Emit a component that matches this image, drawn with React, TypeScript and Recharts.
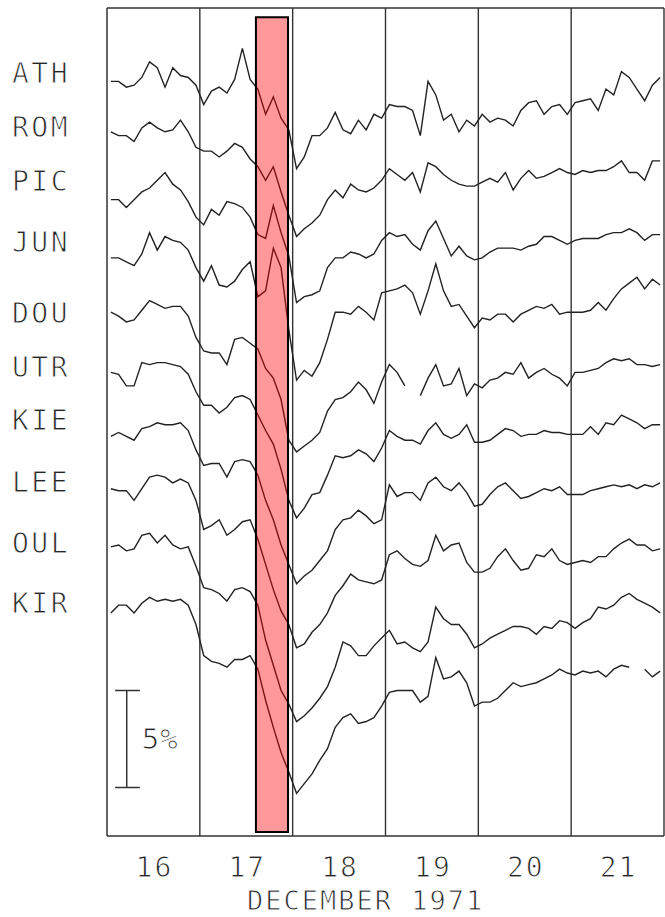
import React from 'react';
import { LineChart, Line, XAxis, YAxis, ReferenceLine, ReferenceArea } from 'recharts';

// Stations, top to bottom
const STATIONS = ['ATH', 'ROM', 'PIC', 'JUN', 'DOU', 'UTR', 'KIE', 'LEE', 'OUL', 'KIR'];
// Vertical offset of each station trace (in % units of the plot scale)
const OFFSETS = [39.0, 36.2, 32.8, 29.8, 27.0, 23.9, 20.8, 18.0, 14.8, 11.6];
// Where the station names sit on the vertical scale
const LABEL_LEVELS = [39.33, 36.55, 33.76, 30.62, 26.96, 24.18, 21.44, 18.25, 15.1, 12.01];

// Hours since 16 December 1971 00 UT (2-hourly samples)
const HOURS = [
  1, 3, 5, 7, 9, 11, 13, 15, 17, 19, 21, 23,
  25, 27, 29, 31, 33, 35, 37, 39, 41, 43, 45, 47,
  49, 51, 53, 55, 57, 59, 61, 63, 65, 67, 69, 71,
  73, 75, 77, 79, 81, 83, 85, 87, 89, 91, 93, 95,
  97, 99, 101, 103, 105, 107, 109, 111, 113, 115, 117, 119,
  121, 123, 125, 127, 129, 131, 133, 135, 137, 139, 141, 143,
];

// Percentage deviation of counting rate for each station
const ATH = [
  -0.1, -0.1, -0.4, -0.3, 0.1, 0.9, 0.6, -0.4, 0.6, 0.2, 0.1, -0.3,
  -1.3, -0.6, -0.4, -0.7, 0.0, 1.6, 0.0, -0.5, -1.8, -0.9, -2.0, -2.6,
  -4.6, -4.0, -2.9, -2.9, -2.5, -1.7, -2.6, -2.8, -2.1, -2.6, -1.8, -2.0,
  -1.3, -1.4, -1.4, -1.6, -2.9, -0.1, -0.8, -2.1, -1.8, -2.7, -2.1, -2.4,
  -1.8, -2.2, -2.0, -2.1, -2.4, -1.6, -1.2, -1.1, -1.8, -1.4, -1.3, -1.8,
  -1.2, -1.1, -1.0, -1.6, -0.5, -0.8, 0.4, 0.1, -0.5, -1.1, -0.3, 0.1,
];
const ROM = [
  0.1, -0.1, -0.1, -0.4, 0.3, 0.6, 0.3, 0.1, 0.2, 0.7, 0.1, -0.7,
  -0.9, -0.9, -1.2, -0.9, -0.5, -0.7, -1.3, -1.7, -2.4, -1.7, -3.0, -4.2,
  -5.3, -4.9, -4.6, -4.2, -3.4, -2.9, -3.3, -2.6, -2.9, -3.0, -2.8, -2.4,
  -1.8, -2.1, -2.4, -2.0, -3.0, -1.5, -1.7, -2.1, -2.4, -2.6, -2.7, -2.7,
  -2.5, -2.3, -2.5, -2.0, -2.9, -2.3, -1.9, -2.3, -2.2, -2.0, -1.8, -2.0,
  -2.1, -1.9, -2.0, -1.9, -1.9, -1.7, -1.4, -2.0, -2.0, -2.4, -1.4, -1.4,
];
const PIC = [
  0.0, 0.0, -0.4, 0.0, 0.4, 0.6, 1.0, 1.4, 0.8, 0.5, -0.1, -0.9,
  -1.3, -0.5, -0.8, -0.1, -0.2, -0.4, -0.9, -1.8, -2.0, -0.3, -1.7, -2.9,
  -5.3, -5.0, -4.9, -4.7, -3.5, -3.0, -3.0, -2.7, -2.8, -3.0, -2.8, -2.1,
  -1.7, -1.9, -1.8, -2.3, -2.6, -1.6, -1.1, -2.0, -2.9, -2.4, -2.9, -3.1,
  -3.0, -2.7, -2.5, -2.5, -2.5, -2.6, -2.4, -2.3, -1.9, -1.9, -2.1, -2.3,
  -2.1, -2.0, -2.0, -2.0, -1.8, -1.7, -1.7, -1.5, -1.7, -2.1, -1.8, -1.8,
];
const JUN = [
  0.0, 0.0, -0.2, -0.4, 0.2, 1.3, 0.4, 1.1, 0.9, 0.8, 0.4, -0.5,
  -1.2, -0.4, -1.4, -1.5, -1.2, -0.6, -0.2, -2.0, -1.7, 0.5, -0.5, -3.7,
  -6.3, -5.8, -6.1, -5.4, -4.2, -2.8, -2.8, -2.9, -2.5, -2.8, -3.2, -1.8,
  -1.7, -1.6, -1.4, -1.8, -2.9, -1.7, -0.3, -1.7, -2.5, -2.4, -3.0, -3.6,
  -3.1, -3.2, -2.9, -2.9, -3.3, -2.9, -2.7, -2.5, -2.6, -2.4, -2.9, -2.8,
  -2.8, -2.8, -2.7, -2.3, -2.7, -2.1, -1.6, -1.3, -1.0, -1.6, -1.1, -1.4,
];
const DOU = [
  0.0, -0.2, -0.5, -0.4, 0.1, 0.6, 0.4, 0.2, 0.3, 0.3, -0.2, -1.3,
  -2.0, -2.1, -2.1, -2.7, -1.4, -1.3, -1.6, -1.9, -2.9, -3.4, -4.5, -6.6,
  -7.2, -6.9, -6.6, -6.2, -5.1, -4.5, -4.4, -4.1, -3.6, -4.0, -4.7, -3.6,
  -2.7, -3.1, -3.8, null, -4.3, -3.4, -2.7, -3.8, -3.7, -2.9, -4.3, -3.7,
  -3.9, -3.5, -3.4, -3.1, -3.2, -2.6, -3.4, -3.1, -2.9, -3.2, -3.4, -3.8,
  -3.1, -3.1, -3.0, -2.9, -2.6, -2.4, -2.5, -2.4, -2.7, -2.7, -2.8, -2.7,
];
const UTR = [
  0.0, -0.1, -0.7, -0.7, 0.5, 0.4, 0.5, 0.5, 0.4, 0.3, -0.1, -1.0,
  -1.7, -1.7, -2.1, -1.8, -1.3, -1.2, -1.4, -2.2, -3.0, -3.7, -5.0, -6.6,
  -7.5, -7.0, -6.3, -6.2, -5.3, -4.3, -4.4, -4.3, -4.0, -4.2, -4.6, -3.9,
  -3.0, -3.3, -3.5, -3.5, -3.7, -3.0, -2.6, -3.2, -3.4, -3.2, -2.7, -3.6,
  -3.6, -3.5, -3.2, -2.9, -3.0, -3.3, -3.2, -3.2, -3.0, -3.1, -3.1, -3.2,
  -3.2, -3.2, -2.8, -3.2, -2.6, -2.7, -2.2, -2.4, -2.6, -2.9, -2.7, -2.7,
];
const KIE = [
  -0.2, 0.0, -0.2, -0.4, 0.2, 0.3, 0.5, 0.4, 0.4, 0.5, 0.1, -0.9,
  -1.7, -1.6, -1.6, -2.3, -1.5, -1.4, -1.5, -2.2, -3.5, -4.5, -5.8, -6.8,
  -7.8, -7.4, -7.1, -6.6, -6.1, -5.0, -4.5, -4.4, -4.0, -4.3, -4.7, -4.5,
  -2.7, -3.3, -3.1, -3.1, -3.5, -2.6, -2.3, -2.8, -3.0, -2.6, -3.1, -3.8,
  -3.7, -3.2, -2.8, -2.6, -3.0, -3.4, -3.3, -3.1, -2.9, -3.0, -2.8, -3.2,
  -3.2, -3.2, -3.0, -2.9, -2.8, -2.7, -2.8, -2.7, -2.9, -2.7, -2.8, -2.6,
];
const LEE = [
  -0.1, -0.2, -0.2, -0.7, -0.1, 0.5, 0.6, 0.5, 0.2, 0.4, 0.2, -0.7,
  -2.2, -2.0, -1.7, -2.5, -2.2, -1.8, -1.7, -2.7, -4.0, -5.3, -6.4, -7.1,
  -8.3, -8.1, -7.5, -7.1, -6.5, -5.6, -5.1, -4.5, -4.8, -4.9, -5.0, -4.8,
  -3.5, -3.3, -3.7, -4.0, -4.1, -3.8, -2.5, -3.3, -3.0, -2.9, -3.9, -4.4,
  -4.4, -4.2, -3.6, -3.2, -3.8, -4.3, -4.2, -3.5, -3.6, -3.2, -3.8, -4.0,
  -3.9, -3.8, -3.9, -3.6, -3.6, -3.2, -2.9, -2.7, -3.0, -3.0, -3.3, -3.2,
];
const OUL = [
  0.1, 0.2, -0.1, 0.0, 0.7, 0.8, 0.3, 0.7, 0.2, 0.0, 0.1, -0.9,
  -2.0, -2.1, -2.3, -2.7, -2.1, -2.0, -2.2, -2.9, -4.7, -6.0, -7.3, -8.0,
  -8.9, -8.6, -8.2, -7.7, -7.1, -6.1, -4.8, -5.0, -5.5, -5.5, -5.0, -4.6,
  -4.2, -4.9, -4.8, -5.1, -5.3, -4.8, -3.0, -3.6, -3.9, -3.9, -4.4, -5.1,
  -4.9, -4.6, -4.4, -4.2, -4.0, -4.0, -4.1, -4.4, -4.0, -4.1, -3.7, -3.8,
  -4.1, -3.8, -3.6, -3.0, -3.1, -2.9, -2.5, -2.3, -2.6, -2.8, -3.0, -3.3,
];
const KIR = [
  -0.1, 0.3, 0.3, -0.1, 0.4, 0.7, 0.5, 0.6, 0.5, 0.6, 0.3, -0.7,
  -2.3, -2.6, -2.7, -2.9, -2.5, -2.5, -2.3, -3.0, -4.6, -6.0, -7.3, -8.3,
  -9.4, -8.9, -8.4, -7.7, -7.1, -6.0, -5.5, -5.3, -5.8, -5.7, -5.5, -4.9,
  -4.2, -4.1, -4.1, -4.1, -4.7, -4.4, -2.4, -3.5, -3.4, -3.1, -3.7, -4.9,
  -4.7, -4.7, -4.5, -4.1, -3.7, -3.9, -3.8, -3.7, -3.5, -3.3, -3.0, -3.2,
  -3.3, -3.1, -3.2, -3.1, -3.4, -3.0, -2.8, -2.9, null, -3.0, -3.4, -3.1,
];
const SERIES = [ATH, ROM, PIC, JUN, DOU, UTR, KIE, LEE, OUL, KIR];

const DAY_TICKS = [12, 36, 60, 84, 108, 132];
const DAY_LABELS = ['16', '17', '18', '19', '20', '21'];
const DAY_BOUNDS = [24, 48, 72, 96, 120, 144];
const EVENT_START = 38.5;
const EVENT_END = 46.8;
const Y_MAX = 42.68;
const SCALE_BAR = { x: 5.1, x1: 2.1, x2: 8.5, y1: 2.5, y2: 7.5 };

const FONT = '"DejaVu Sans Mono", monospace';
const INK = '#262626';
// thin the glyph strokes to look like plotter lettering
const THIN = { stroke: '#ffffff', strokeWidth: 0.9, paintOrder: 'fill' as any };

const data = HOURS.map((h, i) => {
  const row: Record<string, number | null> = { h };
  STATIONS.forEach((s, k) => {
    const d = SERIES[k][i];
    row[s] = d == null ? null : +(OFFSETS[k] + d).toFixed(2);
  });
  return row;
});

const YTick = (props: any) => {
  const { y, index } = props;
  return (
    <text x={12} y={y} dy="0.36em" fontFamily={FONT} fontSize={28} fill={INK} letterSpacing={2.5} textAnchor="start" {...THIN}>
      {STATIONS[index]}
    </text>
  );
};

const XTick = (props: any) => {
  const { x, y, index } = props;
  return (
    <text x={x + 1} y={y + 41} fontFamily={FONT} fontSize={28} fill={INK} letterSpacing={2} textAnchor="middle" {...THIN}>
      {DAY_LABELS[index]}
    </text>
  );
};

const Title = () => (
  <text x={247} y={910} fontFamily={FONT} fontSize={27} fill={INK} letterSpacing={2} textAnchor="start" {...THIN}>
    DECEMBER 1971
  </text>
);

const ScaleLabel = (props: any) => {
  const vb = props.viewBox || {};
  const x = (vb.x ?? 127) + 15;
  const y = (vb.y ?? 690) + (vb.height ?? 97) / 2;
  return (
    <text x={x} y={y} dy="0.36em" fontFamily={FONT} fontSize={29} fill={INK} letterSpacing={1} {...THIN}>
      5%
    </text>
  );
};

export default function App() {
  return (
    <div>
      <style>{'body{margin:0;background:#fff}'}</style>
      <LineChart width={665} height={917} data={data} margin={{ top: 8, right: 1, bottom: 0, left: 0 }}>
        <XAxis
          dataKey="h"
          type="number"
          domain={[0, 144]}
          ticks={DAY_TICKS}
          interval={0}
          tickLine={false}
          tickSize={0}
          tickMargin={0}
          height={81}
          axisLine={{ stroke: '#333', strokeWidth: 1.5 }}
          tick={<XTick />}
          label={<Title />}
          allowDataOverflow
        />
        <YAxis
          type="number"
          domain={[0, Y_MAX]}
          ticks={LABEL_LEVELS}
          interval={0}
          width={107}
          tickLine={false}
          axisLine={{ stroke: '#333', strokeWidth: 1.5 }}
          tick={<YTick />}
          allowDataOverflow
        />
        <ReferenceLine y={Y_MAX} stroke="#333" strokeWidth={1.5} />
        {DAY_BOUNDS.map((b) => (
          <ReferenceLine key={b} x={b} stroke="#333" strokeWidth={1.4} />
        ))}
        <ReferenceLine
          segment={[{ x: SCALE_BAR.x, y: SCALE_BAR.y1 }, { x: SCALE_BAR.x, y: SCALE_BAR.y2 }]}
          stroke="#333"
          strokeWidth={1.5}
          label={<ScaleLabel />}
        />
        <ReferenceLine
          segment={[{ x: SCALE_BAR.x1, y: SCALE_BAR.y1 }, { x: SCALE_BAR.x2, y: SCALE_BAR.y1 }]}
          stroke="#333"
          strokeWidth={1.5}
        />
        <ReferenceLine
          segment={[{ x: SCALE_BAR.x1, y: SCALE_BAR.y2 }, { x: SCALE_BAR.x2, y: SCALE_BAR.y2 }]}
          stroke="#333"
          strokeWidth={1.5}
        />
        {STATIONS.map((s) => (
          <Line
            key={s}
            dataKey={s}
            type="linear"
            stroke="#222"
            strokeWidth={1.4}
            dot={false}
            activeDot={false}
            isAnimationActive={false}
          />
        ))}
        <ReferenceArea
          x1={EVENT_START}
          x2={EVENT_END}
          y1={0.2}
          y2={42.2}
          fill="#ff0000"
          fillOpacity={0.4}
          stroke="#000"
          strokeWidth={2}
          strokeOpacity={1}
          zIndex={1500}
        />
      </LineChart>
    </div>
  );
}
